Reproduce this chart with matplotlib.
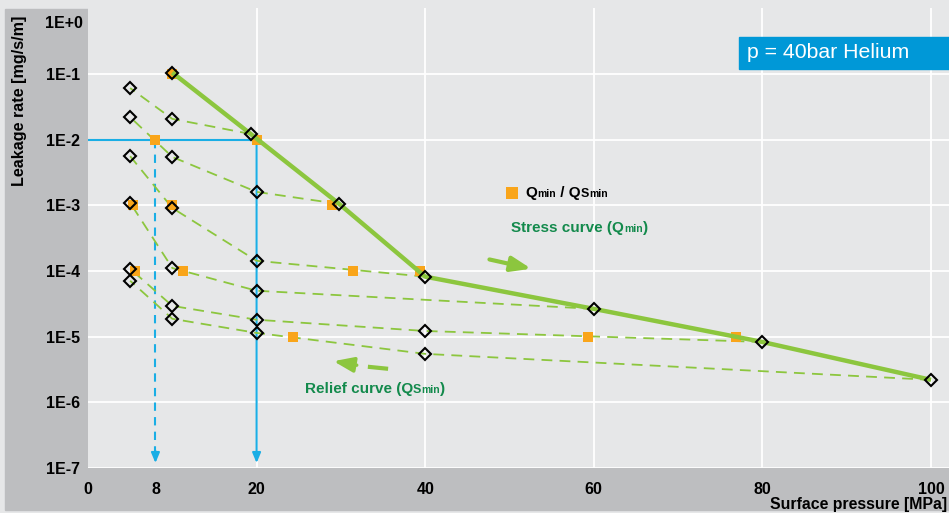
import matplotlib
matplotlib.use("Agg")
from matplotlib import pyplot as plt
from matplotlib.patches import Rectangle
from matplotlib.offsetbox import TextArea, HPacker, AnnotationBbox

plt.rcParams['font.family'] = ['Liberation Sans', 'DejaVu Sans']

# stress curve (Qmin), MPa vs mg/s/m
stress_x = [10, 19.3, 29.8, 40, 60, 80, 100]
stress_y = [0.105, 1.22e-2, 1.05e-3, 8.2e-5, 2.65e-5, 8.3e-6, 2.2e-6]

# relief curves, each starting on the stress curve
relief_20_x = [19.3, 10, 5]
relief_20_y = [1.22e-2, 2.07e-2, 6.1e-2]
relief_30_x = [29.8, 20, 10, 5]
relief_30_y = [1.05e-3, 1.6e-3, 5.45e-3, 2.2e-2]
relief_40_x = [40, 20, 10, 5]
relief_40_y = [8.2e-5, 1.43e-4, 9.1e-4, 5.6e-3]
relief_60_x = [60, 20, 10, 5]
relief_60_y = [2.65e-5, 5.0e-5, 1.11e-4, 1.09e-3]
relief_80_x = [80, 40, 20, 10, 5]
relief_80_y = [8.3e-6, 1.22e-5, 1.81e-5, 2.94e-5, 1.08e-4]
relief_100_x = [100, 40, 20, 10, 5]
relief_100_y = [2.2e-6, 5.47e-6, 1.14e-5, 1.87e-5, 7.1e-5]

relief = [(relief_20_x, relief_20_y), (relief_30_x, relief_30_y),
          (relief_40_x, relief_40_y), (relief_60_x, relief_60_y),
          (relief_80_x, relief_80_y), (relief_100_x, relief_100_y)]

# Qmin / QSmin points
qmin_x = [10, 8, 20, 5.3, 10, 29, 5.6, 11.3, 31.4, 39.4, 24.3, 59.3, 76.9]
qmin_y = [1e-1, 1e-2, 1e-2, 1e-3, 1e-3, 1e-3, 1e-4, 1e-4, 1e-4, 1e-4, 1e-5, 1e-5, 1e-5]

x_ticks = [0, 8, 20, 40, 60, 80, 100]
x_grid = [20, 40, 60, 80, 100]
y_ticks = [1e-7, 1e-6, 1e-5, 1e-4, 1e-3, 1e-2, 1e-1]
y_labels = ['1E-7', '1E-6', '1E-5', '1E-4', '1E-3', '1E-2', '1E-1']

GREEN = '#8cc63e'
ORANGE = '#f9a51a'
BLUE = '#1aaee5'
DKGREEN = '#138a4c'
PANEL = '#e6e7e8'
BAND = '#bdbec0'

W, H = 949, 513
fig = plt.figure(figsize=(W / 100, H / 100), dpi=100, facecolor=PANEL)
fig.patches.append(Rectangle((5 / W, 3 / H), 944 / W, 501 / H,
                             transform=fig.transFigure, color=BAND, zorder=-10))

ax = fig.add_axes([88 / W, 45 / H, 861 / W, 459.7 / H])
ax.set_facecolor(PANEL)
ax.set_yscale('log')
ax.set_xlim(0, 861 / 8.43)
ax.set_ylim(1e-7, 1e0)
for s in ax.spines.values():
    s.set_visible(False)

ax.set_xticks(x_ticks)
ax.set_xticklabels([str(v) for v in x_ticks], fontsize=11.5, fontweight='bold')
ax.get_xticklabels()[0].set_x(0.35)
ax.set_yticks(y_ticks)
ax.set_yticklabels(y_labels, fontsize=11.5, fontweight='bold')
ax.yaxis.set_minor_locator(matplotlib.ticker.NullLocator())
ax.tick_params(length=0)
ax.tick_params(axis='x', pad=10)
ax.tick_params(axis='y', pad=6)
ax.annotate('1E+0', xy=(0, 1), xycoords='axes fraction', xytext=(-5, -15),
            textcoords='offset pixels', ha='right', va='center',
            fontsize=11.5, fontweight='bold')

for y in y_ticks:
    ax.axhline(y, color='white', lw=1.3, zorder=1)
for x in x_grid:
    ax.axvline(x, color='white', lw=1.3, zorder=1)

# blue reading lines
ax.plot([0, 20], [1e-2, 1e-2], color=BLUE, lw=1.5, zorder=2)
ax.annotate('', xy=(20, 1.08e-7), xytext=(20, 1e-2),
            arrowprops=dict(arrowstyle='-|>,head_width=0.25,head_length=0.6',
                            color=BLUE, lw=1.5), zorder=2)
ax.plot([8, 8], [1e-2, 1.6e-7], color=BLUE, lw=1.5, ls=(0, (4, 3)), zorder=2)
ax.annotate('', xy=(8, 1.08e-7), xytext=(8, 2e-7),
            arrowprops=dict(arrowstyle='-|>,head_width=0.25,head_length=0.6',
                            color=BLUE, lw=1.5), zorder=2)

for rx, ry in relief:
    ax.plot(rx, ry, color=GREEN, lw=1.3, ls=(0, (6, 4)), zorder=3)
ax.plot(qmin_x, qmin_y, 's', color=ORANGE, ms=7, mew=0, zorder=4)
ax.plot(stress_x, stress_y, color=GREEN, lw=3.2, zorder=5, solid_capstyle='butt')

dx, dy = list(stress_x), list(stress_y)
for rx, ry in relief:
    dx += rx[1:]
    dy += ry[1:]
ax.plot(dx, dy, 'D', mfc='none', mec='black', mew=1.5, ms=6.5, zorder=6)

# direction arrows
ax.annotate('', xy=(52.9, 1.06e-4), xytext=(47.3, 1.53e-4),
            arrowprops=dict(arrowstyle='-|>,head_width=0.45,head_length=1.2',
                            color=GREEN, lw=3), zorder=6)
ax.plot([35.6, 33.2], [3.24e-6, 3.48e-6], color=GREEN, lw=3, zorder=6,
        solid_capstyle='butt')
ax.annotate('', xy=(28.8, 4.3e-6), xytext=(32.2, 3.62e-6),
            arrowprops=dict(arrowstyle='-|>,head_width=0.45,head_length=1.2',
                            color=GREEN, lw=2.5), zorder=6)


def rich(parts, color):
    kids = [TextArea(t, textprops=dict(fontsize=fs, fontweight='bold', color=color))
            for t, fs in parts]
    return HPacker(children=kids, align='baseline', pad=0, sep=0)


def place(box, x, y):
    ab = AnnotationBbox(box, (x, y), xycoords='data', box_alignment=(0, 0.5),
                        frameon=False, pad=0, zorder=7)
    ax.add_artist(ab)


ax.plot([50.3], [1.55e-3], 's', color=ORANGE, ms=8, mew=0, zorder=7)
place(rich([('Q', 11), ('min', 7.5), (' / Q', 11), ('S', 9), ('min', 7.5)], 'black'),
      51.9, 1.55e-3)
place(rich([('Stress curve (Q', 11), ('min', 7.5), (')', 11)], DKGREEN), 50.2, 4.5e-4)
place(rich([('Relief curve (Q', 11), ('S', 9), ('min', 7.5), (')', 11)], DKGREEN),
      25.7, 1.6e-6)

fig.patches.append(Rectangle((739 / W, 1 - 69 / H), 210 / W, 32 / H,
                             transform=fig.transFigure, color='#0098d7', zorder=5))
fig.text(747 / W, 1 - 53 / H, 'p = 40bar Helium', color='white', fontsize=15.3,
         ha='left', va='center', zorder=6)

fig.text(20 / W, 1 - 101 / H, 'Leakage rate [mg/s/m]', rotation=90, fontsize=11.6,
         fontweight='bold', ha='center', va='center')
fig.text(947 / W, 1 - 504 / H, 'Surface pressure [MPa]', fontsize=11.4,
         fontweight='bold', ha='right', va='center')

fig.savefig('out.png', dpi=100, facecolor=PANEL)
